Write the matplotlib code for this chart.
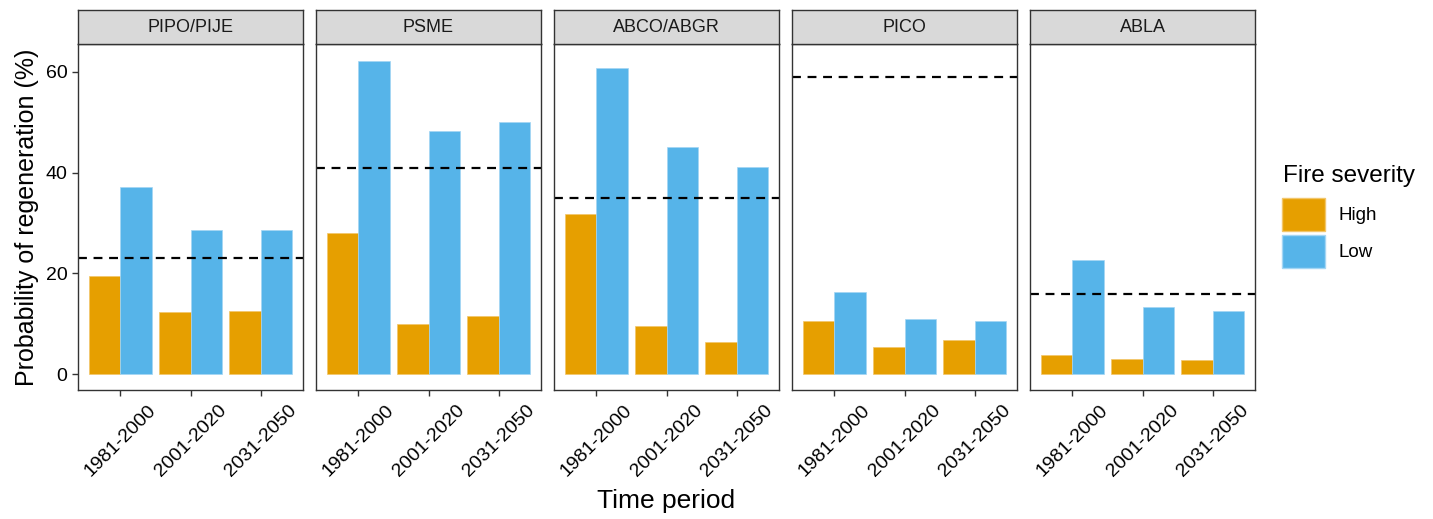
import matplotlib.pyplot as plt
import matplotlib.patches as mpatches
import numpy as np

plt.rcParams['font.family'] = ['Liberation Sans', 'DejaVu Sans']

species = ['PIPO/PIJE', 'PSME', 'ABCO/ABGR', 'PICO', 'ABLA']
periods = ['1981-2000', '2001-2020', '2031-2050']

# probability of regeneration (%) per species, per period
high = [
    [19.6, 12.3, 12.5],
    [28.1, 9.9, 11.5],
    [31.7, 9.5, 6.5],
    [10.6, 5.5, 6.9],
    [3.8, 3.0, 2.8],
]
low = [
    [37.1, 28.7, 28.7],
    [62.2, 48.3, 50.1],
    [60.8, 45.0, 41.2],
    [16.3, 10.9, 10.5],
    [22.7, 13.4, 12.5],
]
# historical reference line per species
reference = [23.0, 41.0, 35.0, 59.0, 16.0]

col_high = '#E69F00'
col_low = '#56B4E9'

W, H = 1433, 519
fig = plt.figure(figsize=(W / 100, H / 100), dpi=100)

left0 = 78
pw = 225
gap = 13
top_strip = 10
top_panel = 44
bottom_panel = 390

x = np.arange(len(periods)) + 1
bw = 0.45

for i, sp in enumerate(species):
    l = left0 + i * (pw + gap)
    ax = fig.add_axes([l / W, (H - bottom_panel) / H, pw / W, (bottom_panel - top_panel) / H])
    ax.bar(x - bw / 2, high[i], width=bw, color=col_high, edgecolor='#F2C66A', linewidth=0.5)
    ax.bar(x + bw / 2, low[i], width=bw, color=col_low, edgecolor='#A4D6F4', linewidth=0.5)
    ax.axhline(reference[i], color='black', linestyle=(0, (4, 3)), linewidth=1.6)
    ax.set_xlim(0.4, 3.6)
    ax.set_ylim(-3.1, 65.5)
    ax.set_xticks(x)
    ax.set_xticklabels(periods, rotation=45, ha='center', va='top', fontsize=14)
    ax.set_yticks([0, 20, 40, 60])
    if i == 0:
        ax.set_yticklabels(['0', '20', '40', '60'], fontsize=14)
        ax.set_ylabel('Probability of regeneration (%)', fontsize=18, labelpad=5)
    else:
        ax.tick_params(axis='y', left=False, labelleft=False)
    ax.tick_params(axis='both', length=4.5, width=1, color='#333333', pad=3)
    ax.tick_params(axis='x', pad=4)
    for s in ax.spines.values():
        s.set_color('#333333')
        s.set_linewidth(1)

    # facet strip
    sa = fig.add_axes([l / W, (H - top_panel) / H, pw / W, (top_panel - top_strip) / H])
    sa.set_facecolor('#D9D9D9')
    sa.set_xticks([])
    sa.set_yticks([])
    for s in sa.spines.values():
        s.set_color('#333333')
        s.set_linewidth(1)
    sa.text(0.5, 0.5, sp, ha='center', va='center', fontsize=13, color='#1a1a1a', transform=sa.transAxes)

fig.text((left0 + 2 * (pw + gap) + pw / 2) / W, 0.012, 'Time period', ha='center', va='bottom', fontsize=19)

# legend: title drawn separately so the gap below it matches
fig.text(1283 / W, (H - 176) / H, 'Fire severity', ha='left', va='center', fontsize=17.5)
handles = [mpatches.Patch(facecolor=col_high, edgecolor='#F2C66A', label='High'),
           mpatches.Patch(facecolor=col_low, edgecolor='#A4D6F4', label='Low')]
leg = fig.legend(handles=handles, loc='upper left',
                 bbox_to_anchor=(1282 / W, (H - 198) / H), frameon=False,
                 fontsize=13.5, handlelength=2.3, handleheight=2.3,
                 handletextpad=0.7, labelspacing=0.25, borderaxespad=0, borderpad=0)

fig.savefig('out.png', dpi=100)
